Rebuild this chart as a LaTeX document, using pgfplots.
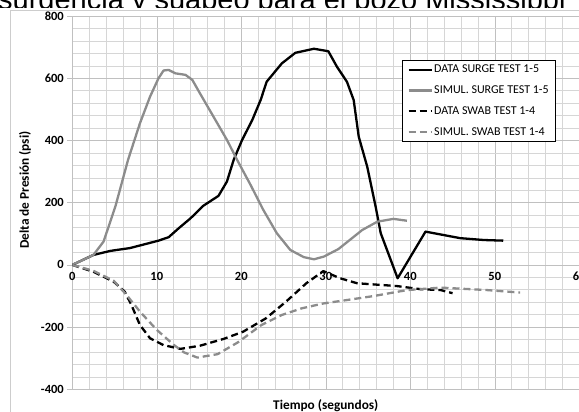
\documentclass[border=0pt]{standalone}
\usepackage{fontspec}
\setmainfont{Carlito}
\newfontfamily\titlefont{Liberation Sans}
\usepackage{pgfplots}
\pgfplotsset{compat=1.18}

\definecolor{simgray}{RGB}{140,140,140}
\definecolor{gridmajor}{RGB}{192,192,192}
\definecolor{gridminor}{RGB}{214,214,214}
\definecolor{framegray}{RGB}{205,205,205}

\begin{document}
\begin{tikzpicture}
\useasboundingbox (0bp,0bp) rectangle (579bp,412bp);
\clip (0bp,0bp) rectangle (579bp,412bp);

% running caption text above the chart, covered by the chart below
\begin{scope}
  \clip (0bp,404.5bp) rectangle (579bp,412bp);
  \node[anchor=base west, inner sep=0pt, text depth=0pt,
        font=\titlefont\fontsize{29bp}{31bp}\selectfont]
    at (-2bp,402bp) {surgencia y suabeo para el pozo Mississippi};
\end{scope}

% chart frame
\draw[framegray, line width=0.75bp] (10bp,-20bp) -- (10bp,402bp) -- (600bp,402bp);

\begin{axis}[
  at={(72.3bp,22.7bp)}, anchor=south west,
  scale only axis, width=507bp, height=373.2bp,
  xmin=0, xmax=60, ymin=-400, ymax=800,
  xtick={0,10,...,60}, xticklabels={0,10,20,30,40,50,60},
  ytick={-400,-200,...,800}, yticklabels={-400,-200,0,200,400,600,800},
  minor x tick num=4, minor y tick num=4,
  grid=both,
  major grid style={gridmajor, line width=0.6bp},
  minor grid style={gridminor, line width=0.6bp},
  axis line style={gridmajor, line width=0.6bp},
  tick align=outside,
  major tick length=5bp, minor tick length=0pt,
  xtick style={draw=none},
  ytick style={gridmajor, line width=0.6bp},
  ticklabel style={font=\bfseries\fontsize{12.5bp}{14bp}\selectfont},
  xticklabel style={yshift=125.5bp},
  xlabel={Tiempo (segundos)},
  ylabel={Delta de Presión (psi)},
  label style={font=\bfseries\fontsize{13.3bp}{15bp}\selectfont},
  xlabel style={at={(axis description cs:0.5,-0.044)}, anchor=center},
  ylabel style={at={(axis description cs:-0.0933,0.534)}, anchor=center},
  legend cell align=left,
  legend image code/.code={\draw[#1] (0bp,0bp) -- (23bp,0bp);},
  legend style={at={(axis description cs:0.6345,0.898)}, anchor=north west,
    xshift=8bp, yshift=-6bp,
    draw=black, line width=0.9bp, fill=white,
    font=\fontsize{12bp}{14bp}\selectfont,
    inner xsep=5bp, inner ysep=3bp, row sep=8.5bp,
    nodes={inner sep=1.5bp}},
  every axis plot/.append style={line width=2.3bp, line join=round},
]

\addplot[black] coordinates {
  (0,0) (2.5,32) (4.5,45) (6.8,54) (8.8,68) (10.2,78) (11.4,89)
  (12.6,118) (14.0,150) (15.5,190) (17.3,222) (18.3,268) (19.1,338)
  (20.1,402) (21.3,466) (22.3,531) (23.0,589) (24.8,648) (26.4,682)
  (28.6,695) (30.3,687) (31.3,638) (32.5,589) (33.3,530) (33.9,412)
  (34.9,316) (35.9,187) (36.5,102) (38.5,-43) (41.8,107) (45.9,86)
  (48.7,80) (51.0,78)
};
\addlegendentry{DATA SURGE TEST 1-5}

\addplot[simgray] coordinates {
  (0,0) (2.5,32) (3.7,75) (5.1,188) (6.6,338) (8.0,455) (9.2,541)
  (10.2,600) (10.8,625) (11.4,627) (12.2,616) (13.4,611) (14.2,595)
  (15.1,552) (16.7,477) (18.3,402) (19.5,338) (21.1,257) (22.6,177)
  (24.2,102) (25.8,48) (27.4,25) (28.6,18) (29.8,27) (31.5,51)
  (34.3,112) (36.1,139) (38.0,148) (39.6,142)
};
\addlegendentry{SIMUL. SURGE TEST 1-5}

\addplot[black, dash pattern=on 7bp off 4bp] coordinates {
  (0,0) (2.5,-22) (4.9,-54) (6.2,-86) (7.0,-129) (8.0,-193) (9.2,-236)
  (10.8,-258) (12.8,-270) (15.1,-260) (17.9,-238) (20.2,-215)
  (22.9,-172) (25.3,-118) (27.7,-59) (29.7,-20) (31.7,-43) (33.7,-59)
  (38.4,-68) (41.2,-78) (43.6,-81) (45.0,-91)
};
\addlegendentry{DATA SWAB TEST 1-4}

\addplot[simgray, dash pattern=on 7bp off 4bp] coordinates {
  (0,0) (2.5,-19) (4.9,-51) (6.4,-96) (8.0,-150) (10.0,-209)
  (12.0,-257) (13.2,-281) (14.8,-298) (17.2,-287) (19.6,-249)
  (22.4,-193) (24.8,-161) (27.1,-140) (29.7,-124) (32.5,-113)
  (35.7,-100) (39.6,-81) (43.6,-73) (49.1,-81) (53.0,-89)
};
\addlegendentry{SIMUL. SWAB TEST 1-4}

\end{axis}
\end{tikzpicture}
\end{document}
